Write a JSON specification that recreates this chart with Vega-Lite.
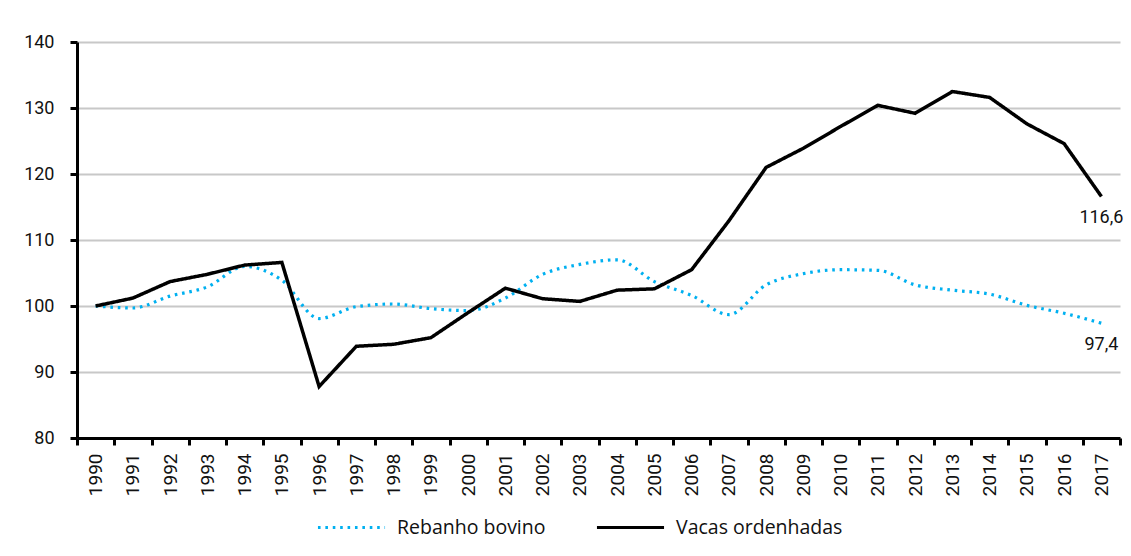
{
  "$schema": "https://vega.github.io/schema/vega-lite/v6.json",
  "width": 1043,
  "height": 396,
  "autosize": "none",
  "padding": {"left": 77, "top": 42, "right": 11, "bottom": 118},
  "background": "white",
  "config": {
    "font": "Roboto",
    "view": {"stroke": null}
  },
  "datasets": {
    "series": [
      {"year": "1990", "serie": "Rebanho bovino", "valor": 100.0},
      {"year": "1991", "serie": "Rebanho bovino", "valor": 99.7},
      {"year": "1992", "serie": "Rebanho bovino", "valor": 101.5},
      {"year": "1993", "serie": "Rebanho bovino", "valor": 102.9},
      {"year": "1994", "serie": "Rebanho bovino", "valor": 106.0},
      {"year": "1995", "serie": "Rebanho bovino", "valor": 103.9},
      {"year": "1996", "serie": "Rebanho bovino", "valor": 98.1},
      {"year": "1997", "serie": "Rebanho bovino", "valor": 99.9},
      {"year": "1998", "serie": "Rebanho bovino", "valor": 100.3},
      {"year": "1999", "serie": "Rebanho bovino", "valor": 99.6},
      {"year": "2000", "serie": "Rebanho bovino", "valor": 99.3},
      {"year": "2001", "serie": "Rebanho bovino", "valor": 101.2},
      {"year": "2002", "serie": "Rebanho bovino", "valor": 104.8},
      {"year": "2003", "serie": "Rebanho bovino", "valor": 106.3},
      {"year": "2004", "serie": "Rebanho bovino", "valor": 107.0},
      {"year": "2005", "serie": "Rebanho bovino", "valor": 103.7},
      {"year": "2006", "serie": "Rebanho bovino", "valor": 101.6},
      {"year": "2007", "serie": "Rebanho bovino", "valor": 98.7},
      {"year": "2008", "serie": "Rebanho bovino", "valor": 103.2},
      {"year": "2009", "serie": "Rebanho bovino", "valor": 104.9},
      {"year": "2010", "serie": "Rebanho bovino", "valor": 105.5},
      {"year": "2011", "serie": "Rebanho bovino", "valor": 105.4},
      {"year": "2012", "serie": "Rebanho bovino", "valor": 103.2},
      {"year": "2013", "serie": "Rebanho bovino", "valor": 102.4},
      {"year": "2014", "serie": "Rebanho bovino", "valor": 101.8},
      {"year": "2015", "serie": "Rebanho bovino", "valor": 100.1},
      {"year": "2016", "serie": "Rebanho bovino", "valor": 98.9},
      {"year": "2017", "serie": "Rebanho bovino", "valor": 97.4},
      {"year": "1990", "serie": "Vacas ordenhadas", "valor": 100.0},
      {"year": "1991", "serie": "Vacas ordenhadas", "valor": 101.2},
      {"year": "1992", "serie": "Vacas ordenhadas", "valor": 103.7},
      {"year": "1993", "serie": "Vacas ordenhadas", "valor": 104.8},
      {"year": "1994", "serie": "Vacas ordenhadas", "valor": 106.2},
      {"year": "1995", "serie": "Vacas ordenhadas", "valor": 106.6},
      {"year": "1996", "serie": "Vacas ordenhadas", "valor": 87.8},
      {"year": "1997", "serie": "Vacas ordenhadas", "valor": 93.9},
      {"year": "1998", "serie": "Vacas ordenhadas", "valor": 94.2},
      {"year": "1999", "serie": "Vacas ordenhadas", "valor": 95.2},
      {"year": "2000", "serie": "Vacas ordenhadas", "valor": 99.0},
      {"year": "2001", "serie": "Vacas ordenhadas", "valor": 102.7},
      {"year": "2002", "serie": "Vacas ordenhadas", "valor": 101.1},
      {"year": "2003", "serie": "Vacas ordenhadas", "valor": 100.7},
      {"year": "2004", "serie": "Vacas ordenhadas", "valor": 102.4},
      {"year": "2005", "serie": "Vacas ordenhadas", "valor": 102.6},
      {"year": "2006", "serie": "Vacas ordenhadas", "valor": 105.5},
      {"year": "2007", "serie": "Vacas ordenhadas", "valor": 112.9},
      {"year": "2008", "serie": "Vacas ordenhadas", "valor": 121.0},
      {"year": "2009", "serie": "Vacas ordenhadas", "valor": 123.9},
      {"year": "2010", "serie": "Vacas ordenhadas", "valor": 127.2},
      {"year": "2011", "serie": "Vacas ordenhadas", "valor": 130.4},
      {"year": "2012", "serie": "Vacas ordenhadas", "valor": 129.2},
      {"year": "2013", "serie": "Vacas ordenhadas", "valor": 132.5},
      {"year": "2014", "serie": "Vacas ordenhadas", "valor": 131.6},
      {"year": "2015", "serie": "Vacas ordenhadas", "valor": 127.6},
      {"year": "2016", "serie": "Vacas ordenhadas", "valor": 124.6},
      {"year": "2017", "serie": "Vacas ordenhadas", "valor": 116.6}
    ],
    "rotulos": [
      {"year": "2017", "serie": "Vacas ordenhadas", "valor": 116.6, "texto": "116,6"},
      {"year": "2017", "serie": "Rebanho bovino", "valor": 97.4, "texto": "97,4"}
    ]
  },
  "encoding": {
    "x": {
      "field": "year", "type": "ordinal",
      "scale": {"type": "band", "paddingInner": 0, "paddingOuter": 0},
      "axis": {
        "title": null, "labelAngle": -90, "labelAlign": "right", "labelBaseline": "middle",
        "labelFontSize": 19, "labelColor": "#111111", "labelPadding": 8,
        "tickBand": "extent", "ticks": true, "tickSize": 7, "tickWidth": 3, "tickColor": "black",
        "domainColor": "black", "domainWidth": 3, "grid": false
      }
    },
    "y": {
      "field": "valor", "type": "quantitative",
      "scale": {"domain": [80, 140], "nice": false, "zero": false},
      "axis": {
        "title": null, "values": [80, 90, 100, 110, 120, 130, 140],
        "labelFontSize": 18, "labelColor": "#111111", "labelPadding": 16,
        "tickSize": 7, "tickWidth": 3, "tickColor": "black",
        "domainColor": "black", "domainWidth": 3,
        "grid": true, "gridColor": "#c8c8c8", "gridWidth": 2
      }
    }
  },
  "layer": [
    {
      "data": {"name": "series"},
      "transform": [{"filter": "datum.serie === 'Rebanho bovino'"}],
      "mark": {"type": "line", "interpolate": "monotone", "strokeWidth": 3.2},
      "encoding": {
        "color": {
          "field": "serie", "type": "nominal",
          "scale": {"domain": ["Rebanho bovino", "Vacas ordenhadas"], "range": ["#00B0F0", "#000000"]},
          "legend": {
            "title": null, "orient": "none", "direction": "horizontal",
            "legendX": 239, "legendY": 450,
            "labelFont": "Open Sans", "labelFontSize": 19.5, "labelColor": "#111111", "labelOffset": 10,
            "labelLimit": 400,
            "symbolType": "stroke", "symbolSize": 4500, "symbolStrokeWidth": 3.2,
            "columnPadding": 44
          }
        },
        "strokeDash": {
          "field": "serie", "type": "nominal",
          "scale": {"domain": ["Rebanho bovino", "Vacas ordenhadas"], "range": [[2.6, 4.8], [1, 0]]},
          "legend": null
        }
      }
    },
    {
      "data": {"name": "series"},
      "transform": [{"filter": "datum.serie === 'Vacas ordenhadas'"}],
      "mark": {"type": "line", "interpolate": "linear", "strokeWidth": 3.5, "strokeJoin": "miter"},
      "encoding": {
        "color": {"field": "serie", "type": "nominal"},
        "strokeDash": {"field": "serie", "type": "nominal"}
      }
    },
    {
      "data": {"name": "rotulos"},
      "mark": {"type": "text", "fontSize": 18, "color": "#111111", "baseline": "middle", "align": "center"},
      "encoding": {
        "text": {"field": "texto"},
        "yOffset": {"value": 22}
      }
    }
  ]
}
